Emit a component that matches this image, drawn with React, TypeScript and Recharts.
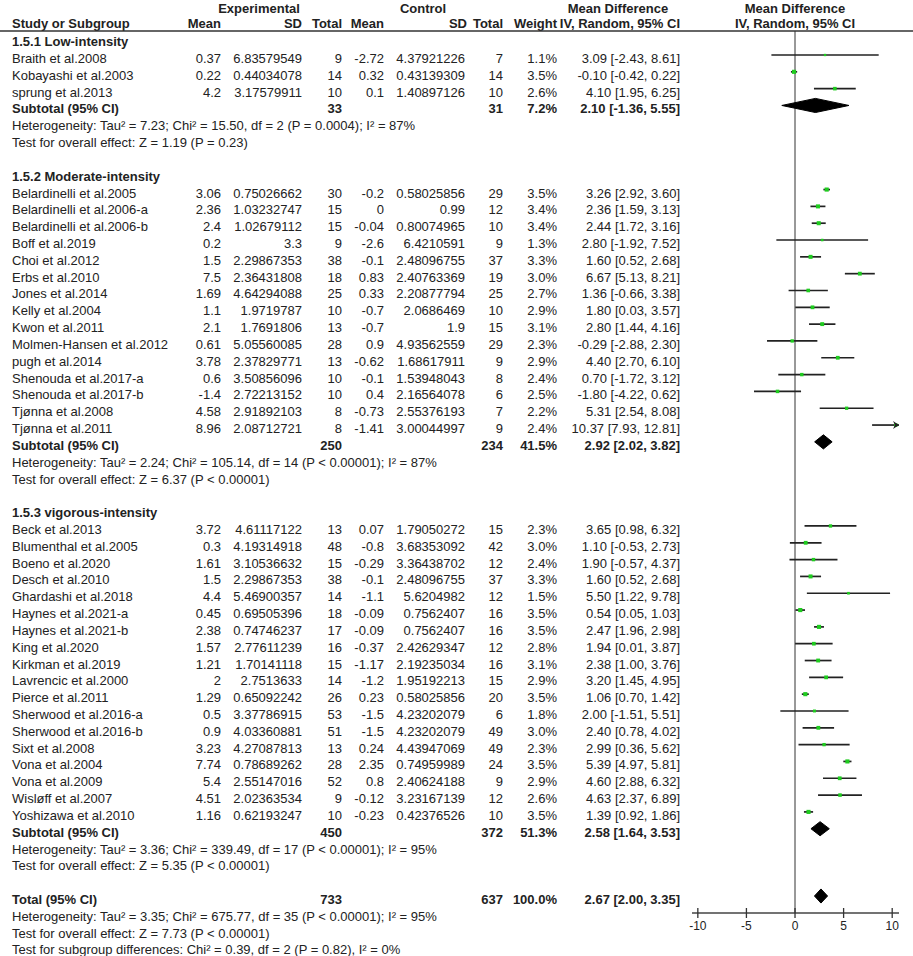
import React from 'react';
import { ComposedChart, Scatter, XAxis, YAxis, ErrorBar, ReferenceLine } from 'recharts';

const GROUP_TITLES = ['1.5.1 Low-intensity', '1.5.2 Moderate-intensity', '1.5.3 vigorous-intensity'];
const GROUP_SIZES = [3, 15, 18];

const STUDIES = [
  'Braith et al.2008', 'Kobayashi et al.2003', 'sprung et al.2013',
  'Belardinelli et al.2005', 'Belardinelli et al.2006-a', 'Belardinelli et al.2006-b', 'Boff et al.2019',
  'Choi et al.2012', 'Erbs et al.2010', 'Jones et al.2014', 'Kelly et al.2004', 'Kwon et al.2011',
  'Molmen-Hansen et al.2012', 'pugh et al.2014', 'Shenouda et al.2017-a', 'Shenouda et al.2017-b',
  'Tjønna et al.2008', 'Tjønna et al.2011',
  'Beck et al.2013', 'Blumenthal et al.2005', 'Boeno et al.2020', 'Desch et al.2010', 'Ghardashi et al.2018',
  'Haynes et al.2021-a', 'Haynes et al.2021-b', 'King et al.2020', 'Kirkman et al.2019', 'Lavrencic et al.2000',
  'Pierce et al.2011', 'Sherwood et al.2016-a', 'Sherwood et al.2016-b', 'Sixt et al.2008', 'Vona et al.2004',
  'Vona et al.2009', 'Wisløff et al.2007', 'Yoshizawa et al.2010',
];
const EXP_MEAN = [0.37, 0.22, 4.2, 3.06, 2.36, 2.4, 0.2, 1.5, 7.5, 1.69, 1.1, 2.1, 0.61, 3.78, 0.6, -1.4, 4.58, 8.96,
  3.72, 0.3, 1.61, 1.5, 4.4, 0.45, 2.38, 1.57, 1.21, 2, 1.29, 0.5, 0.9, 3.23, 7.74, 5.4, 4.51, 1.16];
const EXP_SD = [6.83579549, 0.44034078, 3.17579911, 0.75026662, 1.03232747, 1.02679112, 3.3, 2.29867353, 2.36431808,
  4.64294088, 1.9719787, 1.7691806, 5.05560085, 2.37829771, 3.50856096, 2.72213152, 2.91892103, 2.08712721,
  4.61117122, 4.19314918, 3.10536632, 2.29867353, 5.46900357, 0.69505396, 0.74746237, 2.77611239, 1.70141118,
  2.7513633, 0.65092242, 3.37786915, 4.03360881, 4.27087813, 0.78689262, 2.55147016, 2.02363534, 0.62193247];
const EXP_N = [9, 14, 10, 30, 15, 15, 9, 38, 18, 25, 10, 13, 28, 13, 10, 10, 8, 8,
  13, 48, 15, 38, 14, 18, 17, 16, 15, 14, 26, 53, 51, 13, 28, 52, 9, 10];
const CTL_MEAN = [-2.72, 0.32, 0.1, -0.2, 0, -0.04, -2.6, -0.1, 0.83, 0.33, -0.7, -0.7, 0.9, -0.62, -0.1, 0.4, -0.73, -1.41,
  0.07, -0.8, -0.29, -0.1, -1.1, -0.09, -0.09, -0.37, -1.17, -1.2, 0.23, -1.5, -1.5, 0.24, 2.35, 0.8, -0.12, -0.23];
const CTL_SD = [4.37921226, 0.43139309, 1.40897126, 0.58025856, 0.99, 0.80074965, 6.4210591, 2.48096755, 2.40763369,
  2.20877794, 2.0686469, 1.9, 4.93562559, 1.68617911, 1.53948043, 2.16564078, 2.55376193, 3.00044997,
  1.79050272, 3.68353092, 3.36438702, 2.48096755, 5.6204982, 0.7562407, 0.7562407, 2.42629347, 2.19235034,
  1.95192213, 0.58025856, 4.23202079, 4.23202079, 4.43947069, 0.74959989, 2.40624188, 3.23167139, 0.42376526];
const CTL_N = [7, 14, 10, 29, 12, 10, 9, 37, 19, 25, 10, 15, 29, 9, 8, 6, 7, 9,
  15, 42, 12, 37, 12, 16, 16, 12, 16, 15, 20, 6, 49, 49, 24, 9, 12, 10];
const WEIGHT = [1.1, 3.5, 2.6, 3.5, 3.4, 3.4, 1.3, 3.3, 3.0, 2.7, 2.9, 3.1, 2.3, 2.9, 2.4, 2.5, 2.2, 2.4,
  2.3, 3.0, 2.4, 3.3, 1.5, 3.5, 3.5, 2.8, 3.1, 2.9, 3.5, 1.8, 3.0, 2.3, 3.5, 2.9, 2.6, 3.5];
const MD = [3.09, -0.1, 4.1, 3.26, 2.36, 2.44, 2.8, 1.6, 6.67, 1.36, 1.8, 2.8, -0.29, 4.4, 0.7, -1.8, 5.31, 10.37,
  3.65, 1.1, 1.9, 1.6, 5.5, 0.54, 2.47, 1.94, 2.38, 3.2, 1.06, 2.0, 2.4, 2.99, 5.39, 4.6, 4.63, 1.39];
const CI_LO = [-2.43, -0.42, 1.95, 2.92, 1.59, 1.72, -1.92, 0.52, 5.13, -0.66, 0.03, 1.44, -2.88, 2.7, -1.72, -4.22, 2.54, 7.93,
  0.98, -0.53, -0.57, 0.52, 1.22, 0.05, 1.96, 0.01, 1.0, 1.45, 0.7, -1.51, 0.78, 0.36, 4.97, 2.88, 2.37, 0.92];
const CI_HI = [8.61, 0.22, 6.25, 3.6, 3.13, 3.16, 7.52, 2.68, 8.21, 3.38, 3.57, 4.16, 2.3, 6.1, 3.12, 0.62, 8.08, 12.81,
  6.32, 2.73, 4.37, 2.68, 9.78, 1.03, 2.98, 3.87, 3.76, 4.95, 1.42, 5.51, 4.02, 5.62, 5.81, 6.32, 6.89, 1.86];

const SUB_EXP_N = [33, 250, 450];
const SUB_CTL_N = [31, 234, 372];
const SUB_WEIGHT = [7.2, 41.5, 51.3];
const SUB_MD = [2.1, 2.92, 2.58];
const SUB_LO = [-1.36, 2.02, 1.64];
const SUB_HI = [5.55, 3.82, 3.53];
const SUB_HET = [
  'Heterogeneity: Tau² = 7.23; Chi² = 15.50, df = 2 (P = 0.0004); I² = 87%',
  'Heterogeneity: Tau² = 2.24; Chi² = 105.14, df = 14 (P < 0.00001); I² = 87%',
  'Heterogeneity: Tau² = 3.36; Chi² = 339.49, df = 17 (P < 0.00001); I² = 95%',
];
const SUB_TEST = [
  'Test for overall effect: Z = 1.19 (P = 0.23)',
  'Test for overall effect: Z = 6.37 (P < 0.00001)',
  'Test for overall effect: Z = 5.35 (P < 0.00001)',
];

const TOTAL_EXP_N = 733;
const TOTAL_CTL_N = 637;
const TOTAL_WEIGHT = 100.0;
const TOTAL_MD = 2.67;
const TOTAL_LO = 2.0;
const TOTAL_HI = 3.35;
const TOTAL_NOTES = [
  'Heterogeneity: Tau² = 3.35; Chi² = 675.77, df = 35 (P < 0.00001); I² = 95%',
  'Test for overall effect: Z = 7.73 (P < 0.00001)',
  'Test for subgroup differences: Chi² = 0.39, df = 2 (P = 0.82), I² = 0%',
];

const X_TICKS = [-10, -5, 0, 5, 10];
const X_MIN = -10.6;
const X_MAX = 10.7;
const Y_TOP = -0.427;
const Y_BOT = 52.01;
const HEAD_ROWS = [-2.0, -1.1];

const FONT = '"Liberation Sans", Arial, sans-serif';
const INK = '#222';
const GREEN = '#1fcc1f';

// table layout: one row per line of the forest plot
type Row = { kind: 'group' | 'study' | 'subtotal' | 'note' | 'blank' | 'total'; text?: string; i?: number };
const ROWS: Row[] = [];
const STUDY_ROW: number[] = [];
const SUB_ROW: number[] = [];
let k = 0;
GROUP_TITLES.forEach((title, g) => {
  ROWS.push({ kind: 'group', text: title });
  for (let j = 0; j < GROUP_SIZES[g]; j++) {
    STUDY_ROW.push(ROWS.length);
    ROWS.push({ kind: 'study', i: k++ });
  }
  SUB_ROW.push(ROWS.length);
  ROWS.push({ kind: 'subtotal', i: g });
  ROWS.push({ kind: 'note', text: SUB_HET[g] });
  ROWS.push({ kind: 'note', text: SUB_TEST[g] });
  ROWS.push({ kind: 'blank' });
});
const TOTAL_ROW = ROWS.length;
ROWS.push({ kind: 'total' });
TOTAL_NOTES.forEach((t) => ROWS.push({ kind: 'note', text: t }));

const COL = { name: 12, expMean: 221, expSd: 302, expN: 342, ctlMean: 384, ctlSd: 465, ctlN: 503, weight: 557, md: 680 };

const ci = (m: number, lo: number, hi: number) => `${m.toFixed(2)} [${lo.toFixed(2)}, ${hi.toFixed(2)}]`;

const studyData = MD.map((m, i) => ({
  x: m,
  y: STUDY_ROW[i],
  w: WEIGHT[i],
  err: [m - CI_LO[i], Math.min(CI_HI[i], X_MAX) - m],
}));
const arrowData = MD.map((m, i) => ({ x: X_MAX, y: STUDY_ROW[i], hi: CI_HI[i] })).filter((d) => d.hi > X_MAX);

const diamond = (m: number, lo: number, hi: number, row: number) => [
  { x: lo, y: row },
  { x: m, y: row - 0.42 },
  { x: hi, y: row },
  { x: m, y: row + 0.42 },
  { x: lo, y: row },
];
const diamonds = [
  ...SUB_MD.map((m, g) => diamond(m, SUB_LO[g], SUB_HI[g], SUB_ROW[g])),
  diamond(TOTAL_MD, TOTAL_LO, TOTAL_HI, TOTAL_ROW),
];

function T({ x, y, children, anchor = 'end', bold = false }: any) {
  return (
    <text x={x} y={y} textAnchor={anchor} fontFamily={FONT} fontSize={13} fontWeight={bold ? 'bold' : 'normal'} fill={INK}>
      {children}
    </text>
  );
}

function RowTick(props: any) {
  const { y, payload } = props;
  const v = payload.value;
  const b = y + 8;
  if (v === HEAD_ROWS[0]) {
    return (
      <g>
        <T x={259} y={b} anchor="middle" bold>Experimental</T>
        <T x={423} y={b} anchor="middle" bold>Control</T>
        <T x={618} y={b} anchor="middle" bold>Mean Difference</T>
        <T x={795} y={b} anchor="middle" bold>Mean Difference</T>
      </g>
    );
  }
  if (v === HEAD_ROWS[1]) {
    return (
      <g>
        <T x={COL.name} y={b} anchor="start" bold>Study or Subgroup</T>
        <T x={COL.expMean} y={b} bold>Mean</T>
        <T x={COL.expSd} y={b} bold>SD</T>
        <T x={COL.expN} y={b} bold>Total</T>
        <T x={COL.ctlMean} y={b} bold>Mean</T>
        <T x={COL.ctlSd + 2} y={b} bold>SD</T>
        <T x={COL.ctlN} y={b} bold>Total</T>
        <T x={COL.weight} y={b} bold>Weight</T>
        <T x={COL.md} y={b} bold>IV, Random, 95% CI</T>
        <T x={795} y={b} anchor="middle" bold>IV, Random, 95% CI</T>
        <line x1={0} x2={913} y1={31} y2={31} stroke="#333" strokeWidth={1.5} />
      </g>
    );
  }
  const row = ROWS[v];
  if (!row || row.kind === 'blank') return <g />;
  if (row.kind === 'group') return <T x={COL.name} y={b} anchor="start" bold>{row.text}</T>;
  if (row.kind === 'note') return <T x={COL.name} y={b} anchor="start">{row.text}</T>;
  if (row.kind === 'study') {
    const i = row.i as number;
    return (
      <g>
        <T x={COL.name} y={b} anchor="start">{STUDIES[i]}</T>
        <T x={COL.expMean} y={b}>{String(EXP_MEAN[i])}</T>
        <T x={COL.expSd} y={b}>{String(EXP_SD[i])}</T>
        <T x={COL.expN} y={b}>{String(EXP_N[i])}</T>
        <T x={COL.ctlMean} y={b}>{String(CTL_MEAN[i])}</T>
        <T x={COL.ctlSd} y={b}>{String(CTL_SD[i])}</T>
        <T x={COL.ctlN} y={b}>{String(CTL_N[i])}</T>
        <T x={COL.weight} y={b}>{WEIGHT[i].toFixed(1)}%</T>
        <T x={COL.md} y={b}>{ci(MD[i], CI_LO[i], CI_HI[i])}</T>
      </g>
    );
  }
  const isTotal = row.kind === 'total';
  const g = row.i as number;
  return (
    <g>
      <T x={COL.name} y={b} anchor="start" bold>{isTotal ? 'Total (95% CI)' : 'Subtotal (95% CI)'}</T>
      <T x={COL.expN} y={b} bold>{String(isTotal ? TOTAL_EXP_N : SUB_EXP_N[g])}</T>
      <T x={COL.ctlN} y={b} bold>{String(isTotal ? TOTAL_CTL_N : SUB_CTL_N[g])}</T>
      <T x={COL.weight} y={b} bold>{(isTotal ? TOTAL_WEIGHT : SUB_WEIGHT[g]).toFixed(1)}%</T>
      <T x={COL.md} y={b} bold>
        {isTotal ? ci(TOTAL_MD, TOTAL_LO, TOTAL_HI) : ci(SUB_MD[g], SUB_LO[g], SUB_HI[g])}
      </T>
    </g>
  );
}

function AxisTick(props: any) {
  const { x, y, payload } = props;
  return (
    <g>
      <line x1={x} x2={x} y1={y - 5} y2={y + 5} stroke="#333" strokeWidth={1.3} />
      <text x={x} y={y + 17} textAnchor="middle" fontFamily={FONT} fontSize={12} fill={INK}>
        {payload.value}
      </text>
    </g>
  );
}

const StudyMark = (p: any) => {
  const s = 2.2 * Math.sqrt(p.payload.w);
  return <rect x={p.cx - s / 2} y={p.cy - s / 2} width={s} height={s} fill={GREEN} />;
};

const ArrowMark = (p: any) => (
  <path d={`M${p.cx},${p.cy} L${p.cx - 6},${p.cy - 4} L${p.cx - 4},${p.cy} L${p.cx - 6},${p.cy + 4} Z`} fill={INK} />
);

const NoMark = () => <g />;

export default function App() {
  const rowTicks = [...HEAD_ROWS, ...ROWS.map((_, i) => i)];
  return (
    <div style={{ position: 'absolute', left: 0, top: 0, width: 913, height: 956, background: '#fff' }}>
      <ComposedChart width={913} height={956} margin={{ top: 31, right: 14, bottom: 0, left: 0 }}>
        <XAxis
          type="number"
          dataKey="x"
          domain={[X_MIN, X_MAX]}
          allowDataOverflow
          ticks={X_TICKS}
          interval={0}
          height={43}
          tickSize={0}
          tickMargin={0}
          tickLine={false}
          axisLine={{ stroke: '#444', strokeWidth: 1.5 }}
          tick={<AxisTick />}
        />
        <YAxis
          type="number"
          dataKey="y"
          domain={[Y_TOP, Y_BOT]}
          reversed
          allowDataOverflow
          ticks={rowTicks}
          interval={0}
          width={692}
          axisLine={false}
          tickLine={false}
          tick={<RowTick />}
        />
        <ReferenceLine x={0} stroke="#333" strokeWidth={1} />
        <Scatter data={studyData} shape={<StudyMark />} isAnimationActive={false}>
          <ErrorBar dataKey="err" direction="x" width={0} stroke={INK} strokeWidth={1.7} isAnimationActive={false} />
        </Scatter>
        <Scatter data={arrowData} shape={<ArrowMark />} isAnimationActive={false} />
        {diamonds.map((d, i) => (
          <Scatter
            key={i}
            data={d}
            line={{ fill: '#000', stroke: '#000', strokeWidth: 1 }}
            shape={<NoMark />}
            isAnimationActive={false}
          />
        ))}
      </ComposedChart>
    </div>
  );
}
